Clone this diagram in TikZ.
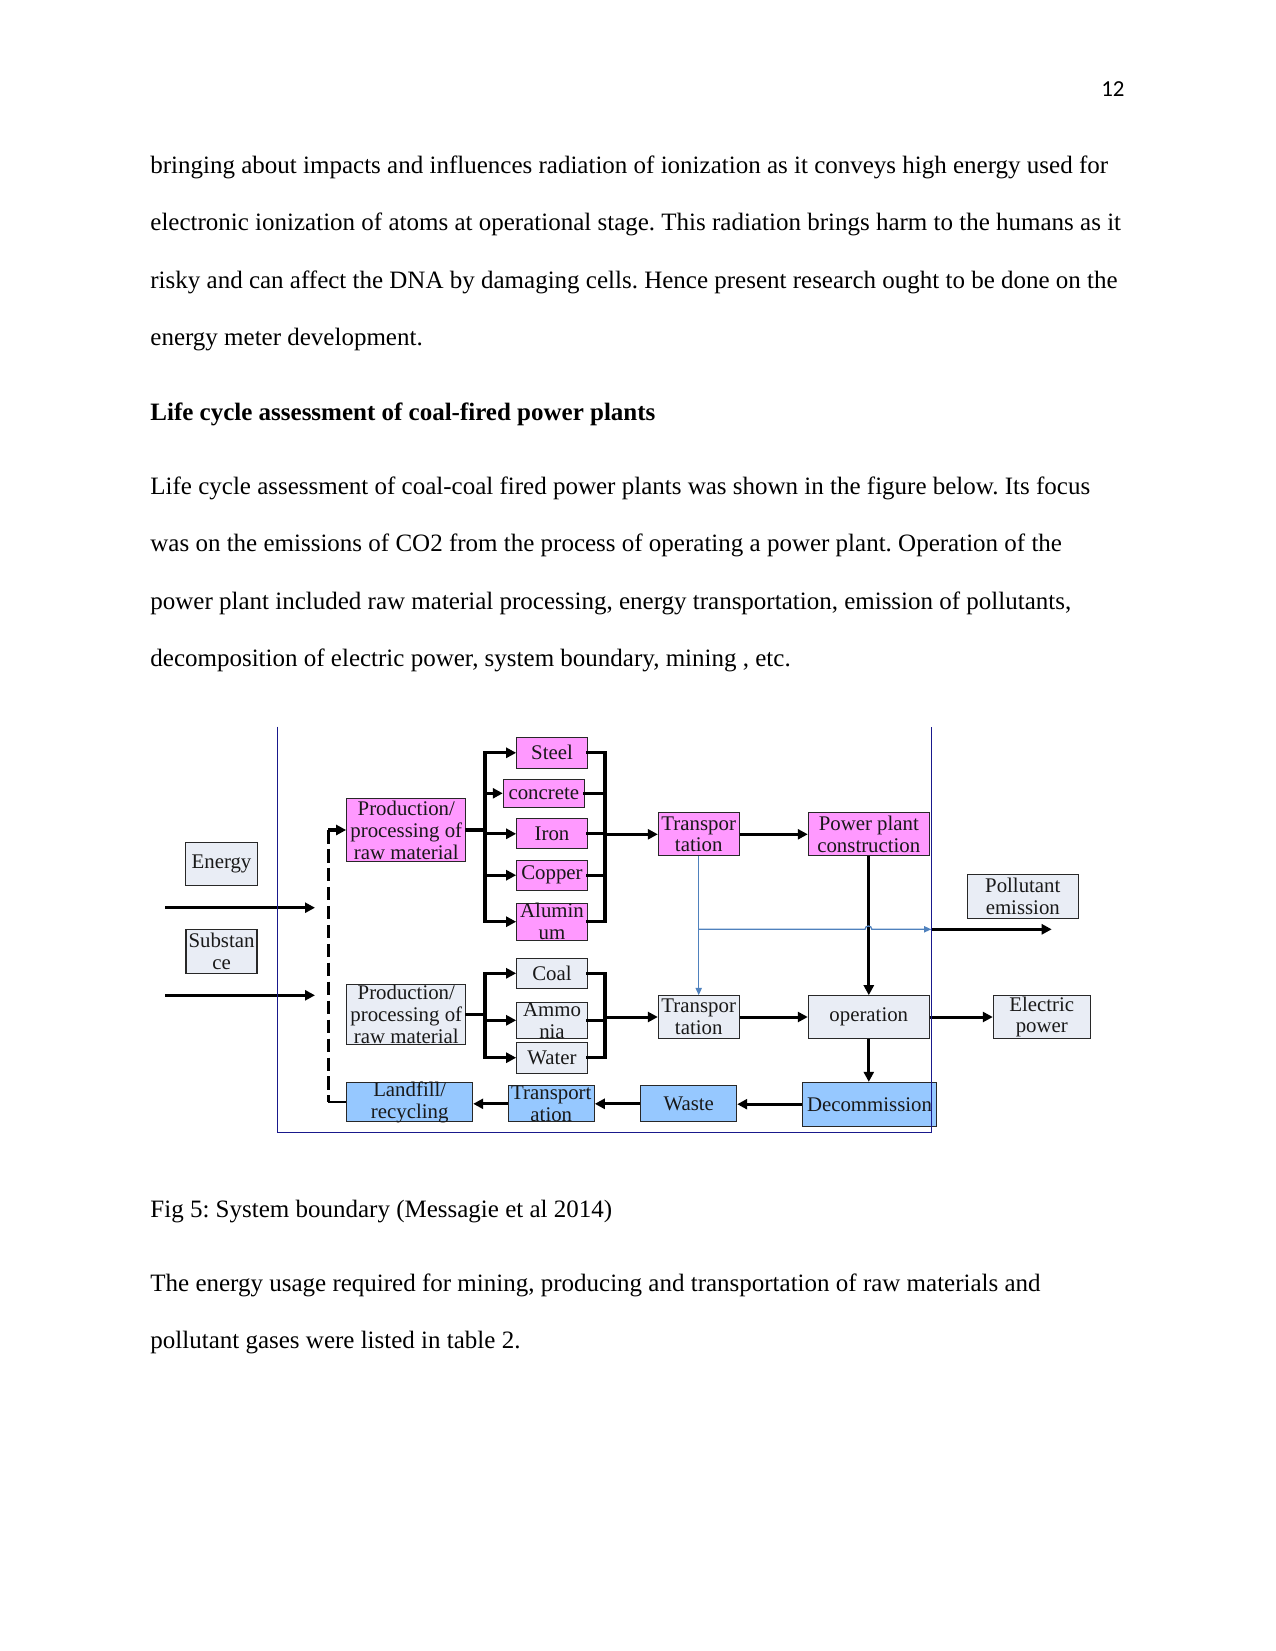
\documentclass[tikz,border=0pt]{standalone}
\usepackage{fontspec}
\setmainfont{Liberation Serif}
\newfontfamily\pgnum{Carlito}
\usetikzlibrary{arrows.meta}
\definecolor{pinkc}{RGB}{255,153,255}
\definecolor{lightc}{RGB}{233,237,245}
\definecolor{bluec}{RGB}{150,200,255}
\definecolor{navyc}{RGB}{25,25,140}
\definecolor{thinblue}{RGB}{79,129,189}
\definecolor{edgec}{RGB}{40,40,40}
\frenchspacing
\begin{document}
\begin{tikzpicture}[x=0.48pt,y=-0.48pt,
 bx/.style={draw=edgec, line width=0.5pt, inner xsep=0pt, inner ysep=-8pt, align=center,
   font=\fontsize{10}{10.5}\selectfont, text=black!90},
 pk/.style={bx, fill=pinkc},
 lt/.style={bx, fill=lightc},
 bl/.style={bx, fill=bluec},
 sz/.style 2 args={minimum width=#1*0.48pt, minimum height=#2*0.48pt},
 wire/.style={line width=1.45pt, line cap=rect},
 arr/.style={line width=1.45pt, -{Triangle[length=4.8pt,width=4.8pt]}},
 thinarr/.style={thinblue, line width=0.6pt, -{Triangle[length=3.5pt,width=3pt]}},
 tx/.style={anchor=base west, inner sep=0pt, font=\fontsize{12}{14}\selectfont},
]
\useasboundingbox (0,0) rectangle (1275,1651);

% page number and text
\node[anchor=base east, inner sep=0pt, font=\pgnum\fontsize{11}{13}\selectfont] (pg) at (1125,96.7) {12};
\node[tx] (t1) at (150,173.3) {bringing about impacts and influences radiation of ionization as it conveys high energy used for};
\node[tx] (t2) at (150,230.5) {electronic ionization of atoms at operational stage. This radiation brings harm to the humans as it};
\node[tx] (t3) at (150,288) {risky and can affect the DNA by damaging cells. Hence present research ought to be done on the};
\node[tx] (t4) at (150,345.5) {energy meter development.};
\node[tx, font=\fontsize{12}{14}\selectfont\bfseries] (h1) at (150,420.7) {Life cycle assessment of coal-fired power plants};
\node[tx] (t5) at (150,494) {Life cycle assessment of coal-coal fired power plants was shown in the figure below. Its focus};
\node[tx] (t6) at (150,551.7) {was on the emissions of CO2 from the process of operating a power plant. Operation of the};
\node[tx] (t7) at (150,609.3) {power plant included raw material processing, energy transportation, emission of pollutants,};
\node[tx] (t8) at (150,666) {decomposition of electric power, system boundary, mining , etc.};
\node[tx] (cap) at (150,1217.3) {Fig 5: System boundary (Messagie et al 2014)};
\node[tx] (t9) at (150,1291) {The energy usage required for mining, producing and transportation of raw materials and};
\node[tx] (t10) at (150,1348.3) {pollutant gases were listed in table 2.};

% boxes
\node[lt, sz={71.6}{42.7}] (energy) at (221.5,863.7) {Energy};
\node[lt, sz={71}{44}] (subst) at (221.5,951.3) {Substan\\ce};
\node[pk, sz={119.3}{62.6}] (prod1) at (406.3,830) {Production/\\processing of\\raw material};
\node[pk, sz={70.6}{31}] (steel) at (552,752.8) {Steel};
\node[pk, sz={81}{28}] (concrete) at (543.8,793.3) {concrete};
\node[pk, sz={70.6}{30.3}] (iron) at (552,833.8) {Iron};
\node[pk, sz={70.6}{29.7}] (copper) at (552,875.2) {Copper};
\node[pk, sz={70.6}{36.7}] (alum) at (552,921.7) {Alumin\\um};
\node[pk, sz={80.7}{43.3}] (tr1) at (698.7,834.3) {Transpor\\tation};
\node[pk, sz={121}{43.3}] (pp) at (868.8,834.3) {Power plant\\construction};
\node[lt, sz={111}{44}] (pollut) at (1022.8,896.3) {Pollutant\\emission};
\node[lt, sz={119.3}{60.3}] (prod2) at (406.3,1014.2) {Production/\\processing of\\raw material};
\node[lt, sz={70.6}{30}] (coal) at (552,973.3) {Coal};
\node[lt, sz={70.6}{36}] (ammonia) at (552,1020.3) {Ammo\\nia};
\node[lt, sz={70.6}{30.7}] (water) at (552,1057.7) {Water};
\node[lt, sz={80.7}{42.6}] (tr2) at (698.7,1017) {Transpor\\tation};
\node[lt, sz={121}{42.6}] (oper) at (868.8,1017) {operation};
\node[lt, sz={97}{42.6}] (elec) at (1041.8,1017) {Electric\\power};
\node[bl, sz={126}{39.4}] (landfill) at (409.7,1102) {Landfill/\\recycling};
\node[bl, sz={86}{35.7}] (trb) at (551.3,1103.8) {Transport\\ation};
\node[bl, sz={96}{35.7}] (waste) at (688.7,1103.8) {Waste};
\node[bl, sz={134.4}{43.7}] (decom) at (869.5,1104.2) {Decommission};

% helper coordinates
\coordinate (bl1) at (485,0);
\coordinate (br1) at (605,0);
\coordinate (e0) at (165,907.7);
\coordinate (e1) at (315,907.7);
\coordinate (s0) at (165,995.3);
\coordinate (s1) at (315,995.3);
\coordinate (dt) at (328.3,830);
\coordinate (db) at (328.3,1102);
\coordinate (bnd) at (931.3,929.3);
\coordinate (hx1) at (865,929.3);
\coordinate (hx2) at (871.8,929.3);
\coordinate (pe) at (1051.7,929.3);

% inputs
\draw[arr] (e0) -- (e1);
\draw[arr] (s0) -- (s1);
\draw[line width=1.4pt, dash pattern=on 6.5pt off 2.6pt] (dt) -- (db);
\draw[line width=1pt] (db) -- (landfill.west);
\draw[arr] (dt) -- (prod1.west);

% upper branch
\draw[wire] (prod1.east) -- (prod1.east -| bl1);
\draw[wire] (bl1 |- steel.west) -- (bl1 |- alum.west);
\foreach \n in {steel,concrete,iron,copper,alum}{
  \draw[arr] (bl1 |- \n.west) -- (\n.west);
  \draw[wire] (\n.east) -- (br1 |- \n.east);
}
\draw[wire] (br1 |- steel.east) -- (br1 |- alum.east);
\draw[arr] (br1 |- tr1.west) -- (tr1.west);

% lower branch
\draw[wire] (prod2.east) -- (prod2.east -| bl1);
\draw[wire] (bl1 |- coal.west) -- (bl1 |- water.west);
\foreach \n in {coal,ammonia,water}{
  \draw[arr] (bl1 |- \n.west) -- (\n.west);
  \draw[wire] (\n.east) -- (br1 |- \n.east);
}
\draw[wire] (br1 |- coal.east) -- (br1 |- water.east);
\draw[arr] (br1 |- tr2.west) -- (tr2.west);

% main flow
\draw[arr] (tr1.east) -- (tr1.east -| pp.west);
\draw[arr] (pp.south) -- (pp.south |- oper.north);
\draw[arr] (tr2.east) -- (tr2.east -| oper.west);
\draw[arr] (oper.east) -- (oper.east -| elec.west);
\draw[arr] (oper.south) -- (oper.south |- decom.north);
\draw[arr] (decom.west) -- (decom.west -| waste.east);
\draw[arr] (waste.west) -- (waste.west -| trb.east);
\draw[arr] (trb.west) -- (trb.west -| landfill.east);

% thin blue connectors
\draw[thinarr] (tr1.south) -- (tr2.north);
\draw[thinarr] (tr1.south |- bnd) -- (hx1) .. controls +(0,-4.4) and +(0,-4.4) .. (hx2) -- (bnd);
\draw[arr] (bnd) -- (pe);

% system boundary
\draw[navyc, line width=0.7pt] (277.3,726.7) -- (277.3,1132.7) -- (931.3,1132.7) -- (931.3,726.7);
\end{tikzpicture}
\end{document}
